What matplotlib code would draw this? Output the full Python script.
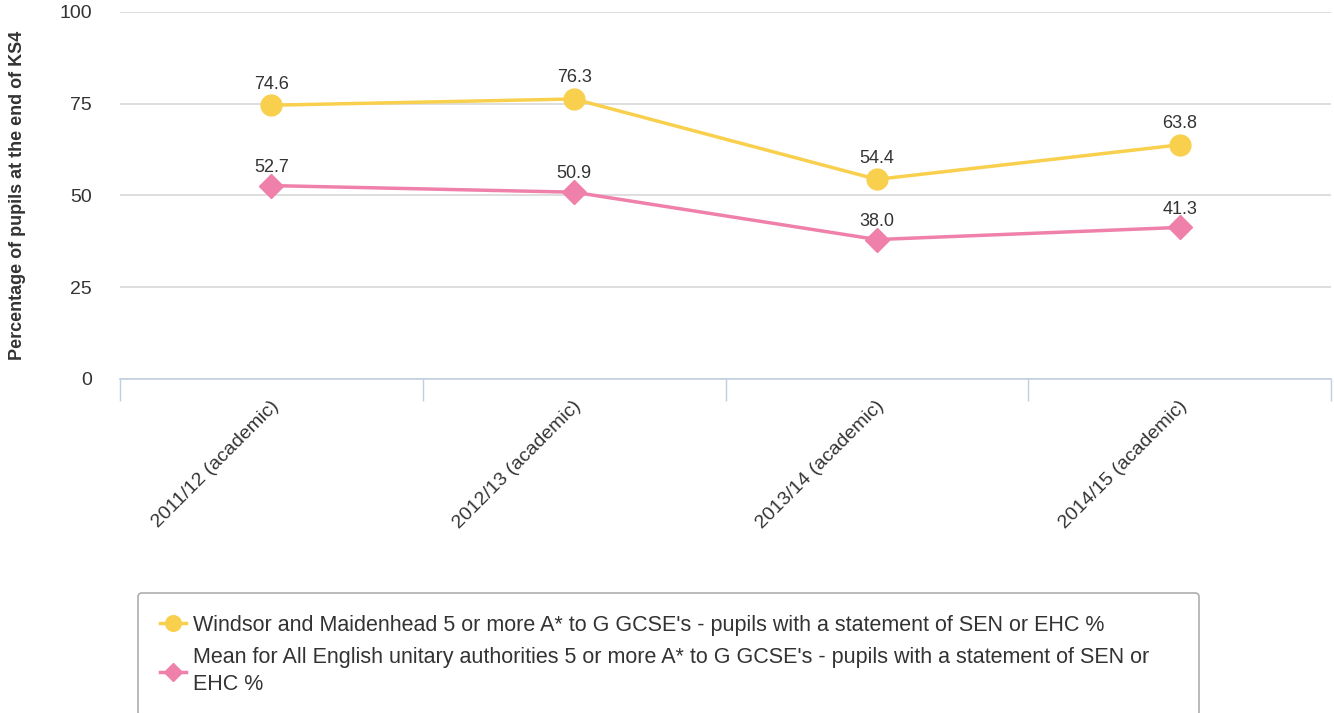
import matplotlib.pyplot as plt
import numpy as np

plt.rcParams['font.family'] = ['Liberation Sans', 'DejaVu Sans']

years = ["2011/12 (academic)", "2012/13 (academic)", "2013/14 (academic)", "2014/15 (academic)"]
windsor = [74.6, 76.3, 54.4, 63.8]
unitary_mean = [52.7, 50.9, 38.0, 41.3]
yticks = [0, 25, 50, 75, 100]

yellow = '#F9D04E'
pink = '#EE80AA'
txt = '#333333'

fig = plt.figure(figsize=(13.34, 7.13), dpi=100)
ax = fig.add_axes([120 / 1334, 1 - 379 / 713, 1211 / 1334, 367 / 713])

x = np.arange(len(years))
ax.plot(x, windsor, color=yellow, lw=2.5, marker='o', ms=15, zorder=3,
        label="Windsor and Maidenhead 5 or more A* to G GCSE's - pupils with a statement of SEN or EHC %")
ax.plot(x, unitary_mean, color=pink, lw=2.5, marker='D', ms=12.5, zorder=3,
        label="Mean for All English unitary authorities 5 or more A* to G GCSE's - pupils with a statement of SEN or\nEHC %")

for xi, v in zip(x, windsor):
    ax.annotate(f"{v:.1f}", (xi, v), xytext=(0, 9), textcoords='offset points',
                ha='center', va='bottom', fontsize=13, color=txt)
for xi, v in zip(x, unitary_mean):
    ax.annotate(f"{v:.1f}", (xi, v), xytext=(0, 7), textcoords='offset points',
                ha='center', va='bottom', fontsize=13, color=txt)

ax.set_xlim(-0.5, len(years) - 0.5)
ax.set_ylim(0, 100)
ax.set_yticks(yticks)
ax.set_yticklabels([str(t) for t in yticks], fontsize=14, color=txt)
ax.tick_params(axis='y', length=0, pad=20)
ax.grid(axis='y', color='#D8D8D8', lw=1.2)
ax.set_axisbelow(True)

# category band edges as x ticks
ax.set_xticks(np.arange(-0.5, len(years)))
ax.set_xticklabels([])
ax.tick_params(axis='x', length=16, color='#C0D0E0', width=1)
for xi, lab in zip(x, years):
    ax.text(xi - 0.005, -5, lab, rotation=45, ha='right', va='top',
            rotation_mode='anchor', fontsize=14, color=txt,
            transform=ax.transData)

for s in ['top', 'right', 'left']:
    ax.spines[s].set_visible(False)
ax.spines['bottom'].set_color('#C0D0E0')
ax.spines['bottom'].set_linewidth(1.2)

fig.text(18 / 1334, 1 - 195 / 713, "Percentage of pupils at the end of KS4", rotation=90,
         ha='center', va='center', fontsize=13, fontweight='bold', color=txt)

leg = fig.legend(loc='upper left', bbox_to_anchor=(138 / 1334, 0, 1061 / 1334, 1 - 593 / 713),
                 mode='expand', borderaxespad=0, fontsize=15.5, frameon=True,
                 fancybox=True, edgecolor='#999999', handlelength=1.25,
                 handletextpad=0.3, labelspacing=0.55, borderpad=1.0,
                 markerscale=0.75)
for t in leg.get_texts():
    t.set_color(txt)
    t.set_linespacing(1.35)
leg.get_frame().set_linewidth(1.2)

fig.savefig('out.png', dpi=100)
